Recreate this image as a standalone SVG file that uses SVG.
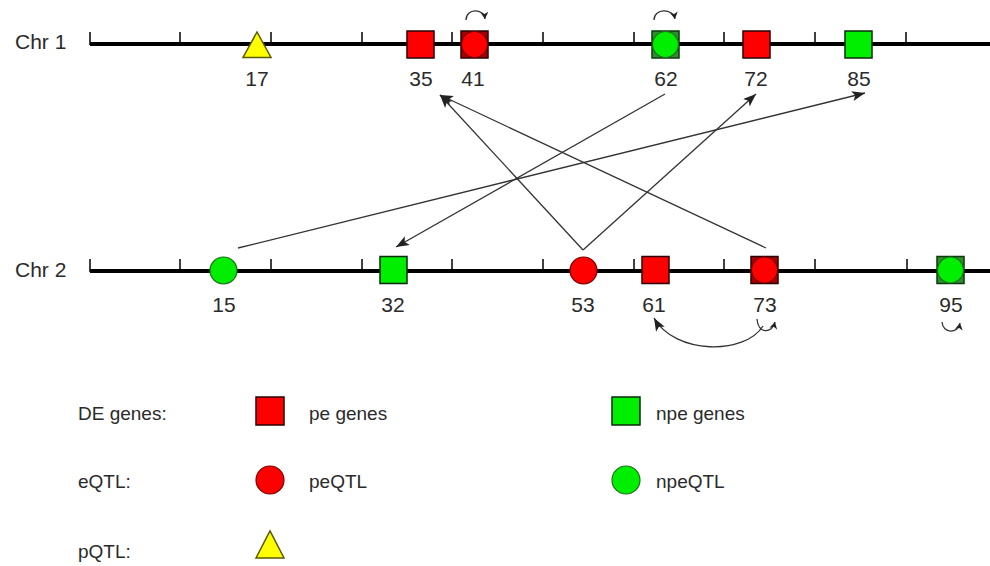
<svg xmlns="http://www.w3.org/2000/svg" width="990" height="566" viewBox="0 0 990 566">
<style>
text{font-family:"Liberation Sans",Arial,sans-serif;fill:#2a2a2a}
.lbl{font-size:21px;text-anchor:middle}
.chr{font-size:21px}
.leg{font-size:19px}
.axis{stroke:#000;stroke-width:4;fill:none}
.tick{stroke:#000;stroke-width:1.5}
.rs{fill:#ff0000;stroke:#2a0000;stroke-width:1.5}
.rsd{fill:#a80000;stroke:#2a0000;stroke-width:1.5}
.rc{fill:#ff0000;stroke:#7a0000;stroke-width:1.2}
.gs{fill:#00ee00;stroke:#0a2a0a;stroke-width:1.5}
.gsd{fill:#2f8f2f;stroke:#0a3a0a;stroke-width:1.5}
.gc{fill:#00ee00;stroke:#1f6f1f;stroke-width:1.2}
.yt{fill:#ffff00;stroke:#5a5a00;stroke-width:1.5}
.conn{stroke:#333;stroke-width:1.3;fill:none}
</style>
<defs>
<marker id="ah" markerUnits="userSpaceOnUse" markerWidth="14" markerHeight="10" refX="13" refY="5" orient="auto">
<path d="M0,0 L13,5 L0,10 L3,5 Z" fill="#222"/>
</marker>
<marker id="ahs" markerUnits="userSpaceOnUse" markerWidth="8" markerHeight="8" refX="7" refY="4" orient="auto">
<path d="M0,0 L7,4 L0,8 L2,4 Z" fill="#222"/>
</marker>
</defs>

<g id="chr1">
<text class="chr" x="15" y="49">Chr 1</text>
<line class="axis" x1="90" y1="44" x2="990" y2="44"/>
<g class="tick">
<line x1="90" y1="32" x2="90" y2="45"/>
<line x1="180" y1="32" x2="180" y2="44"/>
<line x1="271" y1="32" x2="271" y2="44"/>
<line x1="362" y1="32" x2="362" y2="44"/>
<line x1="452" y1="32" x2="452" y2="44"/>
<line x1="543" y1="32" x2="543" y2="44"/>
<line x1="634" y1="32" x2="634" y2="44"/>
<line x1="724" y1="32" x2="724" y2="44"/>
<line x1="815" y1="32" x2="815" y2="44"/>
<line x1="906" y1="32" x2="906" y2="44"/>
</g>
</g>

<g id="chr2">
<text class="chr" x="15" y="277">Chr 2</text>
<line class="axis" x1="90" y1="271" x2="990" y2="271"/>
<g class="tick">
<line x1="90" y1="259" x2="90" y2="272"/>
<line x1="180" y1="259" x2="180" y2="271"/>
<line x1="271" y1="259" x2="271" y2="271"/>
<line x1="362" y1="259" x2="362" y2="271"/>
<line x1="452" y1="259" x2="452" y2="271"/>
<line x1="543" y1="259" x2="543" y2="271"/>
<line x1="634" y1="259" x2="634" y2="271"/>
<line x1="724" y1="259" x2="724" y2="271"/>
<line x1="815" y1="259" x2="815" y2="271"/>
<line x1="907" y1="259" x2="907" y2="271"/>
</g>
</g>

<g id="c1-17"><polygon class="yt" points="243,57.5 271,57.5 257,32"/><text class="lbl" x="257" y="86">17</text></g>
<g id="c1-35"><rect class="rs" x="407" y="31" width="27" height="27"/><text class="lbl" x="421" y="86">35</text></g>
<g id="c1-41"><rect class="rsd" x="461" y="31" width="27" height="27"/><circle class="rc" cx="474.5" cy="44.5" r="13"/><text class="lbl" x="473" y="86">41</text></g>
<g id="c1-62"><rect class="gsd" x="652" y="31" width="27" height="27"/><circle class="gc" cx="665.5" cy="44.5" r="13"/><text class="lbl" x="666" y="86">62</text></g>
<g id="c1-72"><rect class="rs" x="743" y="31" width="27" height="27"/><text class="lbl" x="756" y="86">72</text></g>
<g id="c1-85"><rect class="gs" x="845" y="31" width="27" height="27"/><text class="lbl" x="859" y="86">85</text></g>

<g id="c2-15"><circle class="gc" cx="223.5" cy="270.5" r="13.5"/><text class="lbl" x="224" y="312">15</text></g>
<g id="c2-32"><rect class="gs" x="380" y="256.5" width="27" height="27"/><text class="lbl" x="393" y="312">32</text></g>
<g id="c2-53"><circle class="rc" cx="583.5" cy="270.5" r="13.5"/><text class="lbl" x="583" y="312">53</text></g>
<g id="c2-61"><rect class="rs" x="642" y="256.5" width="27" height="27"/><text class="lbl" x="654" y="312">61</text></g>
<g id="c2-73"><rect class="rsd" x="751" y="256.5" width="27" height="27"/><circle class="rc" cx="764.5" cy="270" r="13"/><text class="lbl" x="765" y="312">73</text></g>
<g id="c2-95"><rect class="gsd" x="937" y="256.5" width="27" height="27"/><circle class="gc" cx="950.5" cy="270" r="13"/><text class="lbl" x="951" y="312">95</text></g>

<g id="connectors">
<line class="conn" x1="583" y1="250" x2="440" y2="95" marker-end="url(#ah)"/>
<line class="conn" x1="583" y1="250" x2="756" y2="94" marker-end="url(#ah)"/>
<line class="conn" x1="766" y1="248" x2="440" y2="95" marker-end="url(#ah)"/>
<line class="conn" x1="665" y1="94" x2="396" y2="247" marker-end="url(#ah)"/>
<line class="conn" x1="238" y1="248" x2="865" y2="93" marker-end="url(#ah)"/>
<path class="conn" d="M466,20 C466,8 484,8 485,19" marker-end="url(#ahs)"/>
<path class="conn" d="M654,20 C654,8 673,8 675,19" marker-end="url(#ahs)"/>
<path class="conn" d="M757,319 C758,334 772,334 775,322" marker-end="url(#ahs)"/>
<path class="conn" d="M763,326 C745,355 675,355 654,318" marker-end="url(#ah)"/>
<path class="conn" d="M942,322 C943,334 958,334 960,323" marker-end="url(#ahs)"/>
</g>

<g id="legend">
<text class="leg" x="78" y="420">DE genes:</text>
<rect class="rs" x="256" y="397" width="28" height="28"/>
<text class="leg" x="309" y="420">pe genes</text>
<rect class="gs" x="612" y="397" width="28" height="28"/>
<text class="leg" x="656" y="420">npe genes</text>
<text class="leg" x="78" y="488">eQTL:</text>
<circle class="rc" cx="270" cy="480" r="14"/>
<text class="leg" x="309" y="488">peQTL</text>
<circle class="gc" cx="626" cy="480" r="14"/>
<text class="leg" x="656" y="488">npeQTL</text>
<text class="leg" x="78" y="558">pQTL:</text>
<polygon class="yt" points="256,558 284,558 270,531"/>
</g>
</svg>
